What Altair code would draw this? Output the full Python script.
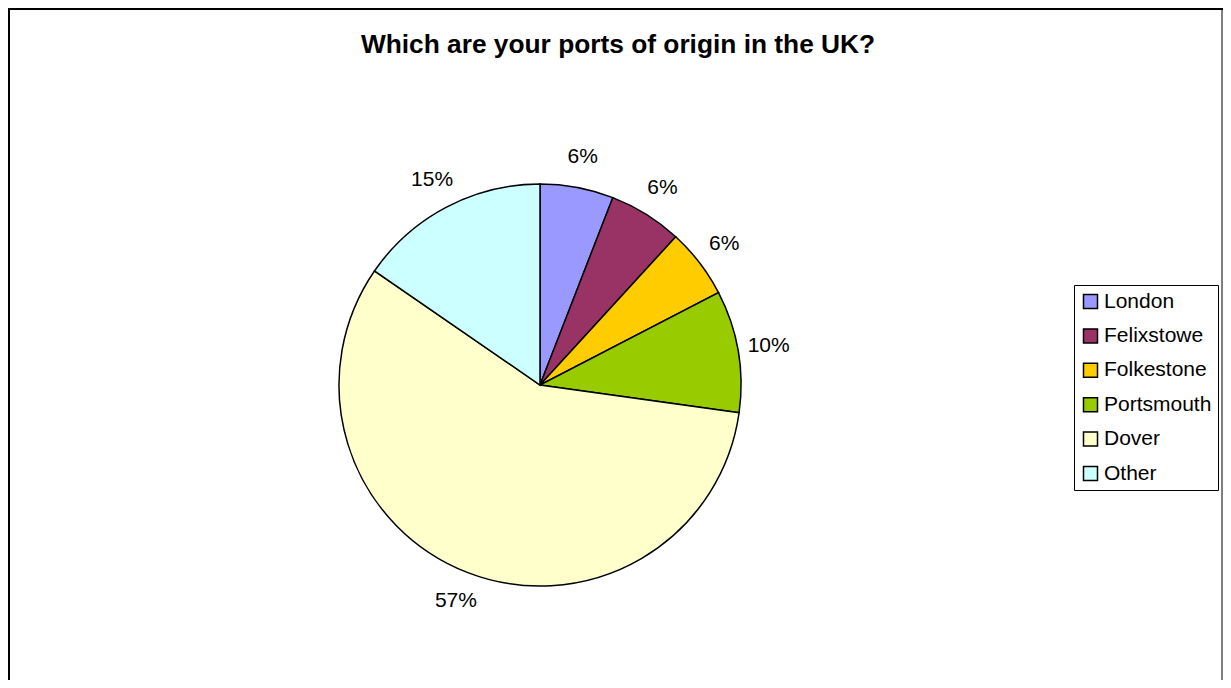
import altair as alt
import pandas as pd

ports = ["London", "Felixstowe", "Folkestone", "Portsmouth", "Dover", "Other"]
shares = [5.9, 5.9, 5.6, 9.8, 57.4, 15.4]
pct_labels = ["6%", "6%", "6%", "10%", "57%", "15%"]
colors = ["#9999FF", "#993366", "#FFCC00", "#99CC00", "#FFFFCC", "#CCFFFF"]
title_text = "Which are your ports of origin in the UK?"

W, H = 1215, 672
CX, CY, R = 532, 377, 201
FONT = "Liberation Sans"

df = pd.DataFrame({"port": ports, "share": shares, "label": pct_labels, "idx": list(range(len(ports)))})

theta = alt.Theta("share:Q", stack=True)
order = alt.Order("idx:Q", sort="ascending")

pie = alt.Chart(df).mark_arc(radius=R, stroke="black", strokeWidth=1.5).encode(
    theta=theta,
    order=order,
    x=alt.value(CX),
    y=alt.value(CY),
    color=alt.Color(
        "port:N",
        scale=alt.Scale(domain=ports, range=colors),
        legend=alt.Legend(
            title=None,
            orient="none",
            legendX=1066,
            legendY=277,
            symbolType="square",
            symbolSize=196,
            symbolStrokeColor="black",
            symbolStrokeWidth=1.5,
            labelFont=FONT,
            labelFontSize=21,
            labelColor="black",
            labelOffset=3,
            rowPadding=12.4,
            padding=6,
            strokeColor="black",
            fillColor="white",
            labelLimit=300,
        ),
    ),
)

labels = alt.Chart(df).mark_text(radius=232, font=FONT, fontSize=21, color="black").encode(
    theta=theta,
    order=order,
    x=alt.value(CX),
    y=alt.value(CY),
    text="label:N",
)

title = alt.Chart(pd.DataFrame({"t": [title_text]})).mark_text(
    font=FONT, fontSize=26.3, fontWeight="bold", color="black"
).encode(text="t:N", x=alt.value(610), y=alt.value(37))

frame_l = alt.Chart(pd.DataFrame({"a": [0]})).mark_rule(color="black", strokeWidth=2).encode(
    x=alt.value(1), y=alt.value(0), y2=alt.value(H)
)
frame_t = alt.Chart(pd.DataFrame({"a": [0]})).mark_rule(color="black", strokeWidth=2).encode(
    x=alt.value(0), x2=alt.value(W), y=alt.value(1)
)
frame_r = alt.Chart(pd.DataFrame({"a": [0]})).mark_rule(color="black", strokeWidth=1).encode(
    x=alt.value(W - 1), y=alt.value(0), y2=alt.value(H)
)

chart = alt.layer(pie, labels, title, frame_l, frame_t, frame_r).properties(
    width=W, height=H, autosize=alt.AutoSizeParams(type="none"), padding=0
).configure_view(stroke=None).configure(background="white")

chart.save("out.html", embed_options={"renderer": "svg", "actions": False})
